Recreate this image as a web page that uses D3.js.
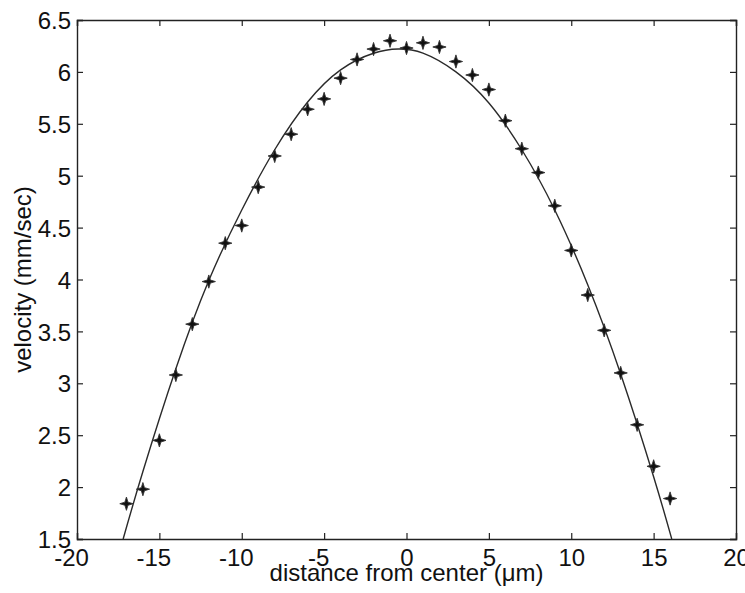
<!DOCTYPE html>
<html>
<head>
<meta charset="UTF-8">
<script src="https://d3js.org/d3.v7.min.js"></script>
<style>
    body { margin: 0; background: #fff; }
    svg text { font-family: "Liberation Sans", Arial, sans-serif; fill: #111; }
</style>
</head>
<body>
<div id="chart"></div>
<script>
    // measured points (distance in um, velocity in mm/sec)
    const distance = [-17, -16, -15, -14, -13, -12, -11, -10, -9, -8, -7, -6, -5, -4, -3, -2, -1,
                      0, 1, 2, 3, 4, 5, 6, 7, 8, 9, 10, 11, 12, 13, 14, 15, 16]
    const velocity = [1.84, 1.98, 2.45, 3.08, 3.57, 3.98, 4.35, 4.52, 4.89, 5.19, 5.40, 5.64, 5.74, 5.94, 6.12, 6.22, 6.30,
                      6.23, 6.28, 6.24, 6.10, 5.97, 5.83, 5.53, 5.26, 5.03, 4.71, 4.28, 3.85, 3.51, 3.10, 2.60, 2.20, 1.89]

    // fitted curve
    const fitX = [-17.2, -16, -14, -12, -10, -8, -6, -4, -2, -0.5, 1, 3, 5, 7, 9, 11, 13, 15, 16.1]
    const fitV = [1.5, 2.15, 3.14, 3.99, 4.67, 5.25, 5.71, 6.02, 6.18, 6.22, 6.18, 6.00, 5.70, 5.25, 4.67, 3.95, 3.09, 2.10, 1.5]

    const xTicks = [-20, -15, -10, -5, 0, 5, 10, 15, 20]
    const yTicks = [1.5, 2, 2.5, 3, 3.5, 4, 4.5, 5, 5.5, 6, 6.5]

    const W = 745, H = 593
    const m = {left: 77, top: 20, right: 9, bottom: 54}
    const w = W - m.left - m.right, h = H - m.top - m.bottom

    const svg = d3.select('#chart').append('svg')
        .attr('width', W)
        .attr('height', H)

    const g = svg.append('g').attr('transform', `translate(${m.left},${m.top})`)

    const x = d3.scaleLinear().domain([-20, 20]).range([0, w])
    const y = d3.scaleLinear().domain([1.5, 6.5]).range([h, 0])

    const axisColor = '#222'
    const fs = '24px'

    // axes with inward ticks on all four sides
    const axB = g.append('g').attr('transform', `translate(0,${h})`)
        .call(d3.axisBottom(x).tickValues(xTicks).tickSize(-6).tickPadding(14).tickFormat(d => String(d)))
    const axT = g.append('g')
        .call(d3.axisTop(x).tickValues(xTicks).tickSize(-6).tickFormat(''))
    const axL = g.append('g')
        .call(d3.axisLeft(y).tickValues(yTicks).tickSize(-6).tickPadding(6).tickFormat(d => d))
    const axR = g.append('g').attr('transform', `translate(${w},0)`)
        .call(d3.axisRight(y).tickValues(yTicks).tickSize(-6).tickFormat(''))

    ;[axB, axT, axL, axR].forEach(a => {
        a.select('.domain').attr('stroke', axisColor).attr('stroke-width', 1.4)
        a.selectAll('.tick line').attr('stroke', axisColor).attr('stroke-width', 1.2)
        a.selectAll('.tick text').style('font-size', fs).attr('fill', '#111')
    })
    axB.selectAll('.tick text').attr('dy', '0.55em').attr('dx', d => d < 0 ? -6 : 0)
    axL.selectAll('.tick text').attr('dy', '0.36em')

    // fitted line
    g.append('path')
        .datum(fitX.map((d, i) => [d, fitV[i]]))
        .attr('fill', 'none')
        .attr('stroke', '#2a2a2a')
        .attr('stroke-width', 1.4)
        .attr('d', d3.line().x(d => x(d[0])).y(d => y(d[1])).curve(d3.curveNatural))

    // four pointed star marker
    const star4 = {
        draw(ctx, size) {
            const r = Math.sqrt(size), ri = r * 0.33
            for (let k = 0; k < 8; k++) {
                const a = k * Math.PI / 4 - Math.PI / 2
                const rr = k % 2 === 0 ? r : ri
                if (k === 0) ctx.moveTo(rr * Math.cos(a), rr * Math.sin(a))
                else ctx.lineTo(rr * Math.cos(a), rr * Math.sin(a))
            }
            ctx.closePath()
        }
    }

    g.selectAll('.pt')
        .data(distance)
        .enter()
        .append('path')
        .attr('class', 'pt')
        .attr('transform', (d, i) => `translate(${x(d)},${y(velocity[i])})`)
        .attr('d', d3.symbol().type(star4).size(44))
        .attr('fill', '#111')
        .attr('stroke', '#333')
        .attr('stroke-width', 0.9)

    // labels
    svg.append('text')
        .attr('x', m.left + w / 2)
        .attr('y', 581)
        .attr('text-anchor', 'middle')
        .style('font-size', fs)
        .text('distance from center (\u03bcm)')

    svg.append('text')
        .attr('transform', `translate(31,${m.top + h / 2}) rotate(-90)`)
        .attr('text-anchor', 'middle')
        .style('font-size', fs)
        .text('velocity (mm/sec)')
</script>
</body>
</html>
